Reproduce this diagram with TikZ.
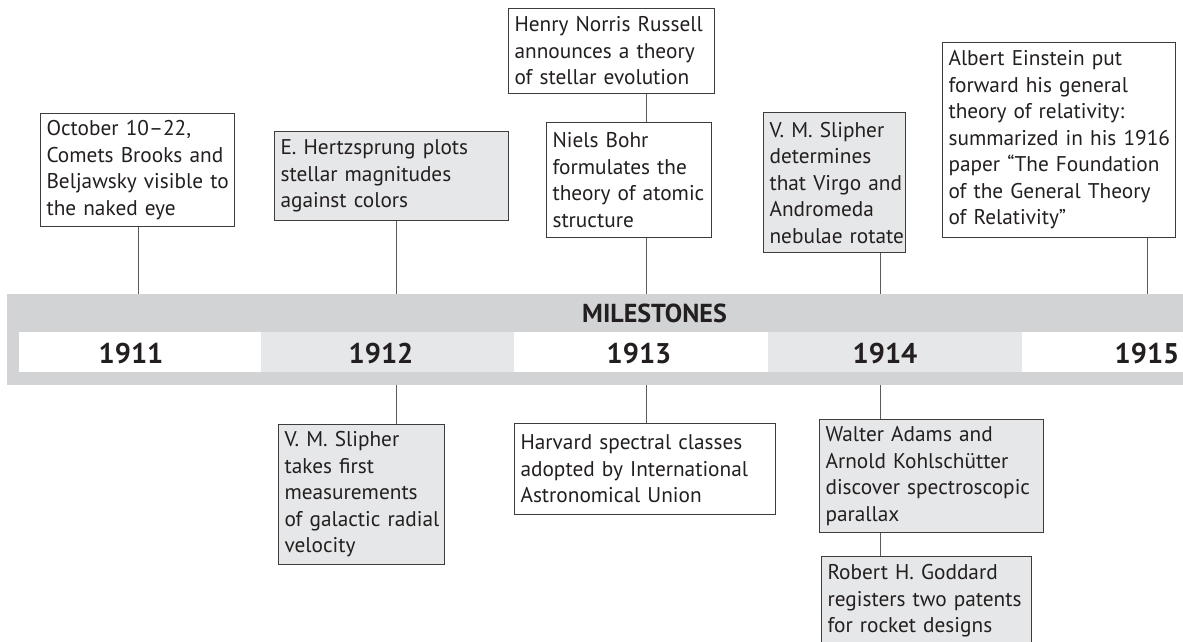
\documentclass[tikz,border=0pt]{standalone}
\usepackage{fontspec}
\setmainfont{PT Sans}
\definecolor{bandgray}{HTML}{D1D3D4}
\definecolor{cellgray}{HTML}{E6E7E8}
\definecolor{boxline}{HTML}{3C3C3C}
\definecolor{connline}{HTML}{5A5A5A}
\definecolor{ink}{HTML}{231F20}
\newcommand\bxfont{\fontsize{21.3pt}{26.5pt}\selectfont}
\newcommand\yrfont{\fontsize{28.5pt}{30pt}\selectfont\bfseries}
\newcommand\msfont{\fontsize{26pt}{28pt}\selectfont\bfseries}
\begin{document}
\begin{tikzpicture}[x=1pt,y=-1pt,
  box/.style={draw=boxline, line width=1.1pt, anchor=north west, inner xsep=6pt, inner ysep=0pt,
    align=left, font=\bxfont, text=ink},
  shaded/.style={fill=cellgray},
  plain/.style={fill=white},
  conn/.style={draw=connline, line width=1pt},
  cell/.style={anchor=north west, inner sep=0pt, minimum width=253.5pt, minimum height=40pt},
  year/.style={font=\yrfont, text=ink, anchor=base, inner sep=0pt}
]
\useasboundingbox (0,0) rectangle (1183,642);

% connector x positions
\coordinate (x1) at (138,0);
\coordinate (x2) at (396,0);
\coordinate (x3) at (646,0);
\coordinate (x4) at (880,0);
\coordinate (x5) at (1147,0);

% band
\node[fill=bandgray, anchor=north west, inner sep=0pt, minimum width=1300pt, minimum height=91pt] (band) at (7,294) {};
\node[cell, fill=white, minimum width=242pt] (c1) at (19,331.7) {};
\node[cell, fill=cellgray] (c2) at (261,331.7) {};
\node[cell, fill=white] (c3) at (514,331.7) {};
\node[cell, fill=cellgray] (c4) at (768,331.7) {};
\node[cell, fill=white] (c5) at (1022,331.7) {};
\node[font=\msfont, text=ink, anchor=base, inner sep=0pt] (ms) at (654.5,322.5) {MILESTONES};
\node[year] (y1) at (131,363.5) {1911};
\node[year] (y2) at (381,363.5) {1912};
\node[year] (y3) at (639,363.5) {1913};
\node[year] (y4) at (885,363.5) {1914};
\node[year] (y5) at (1147,363.5) {1915};

% top boxes
\node[box, plain, minimum width=194pt, minimum height=113pt, text width=182pt] (oct) at (40,113)
  {\mbox{October 10–22,}\\\mbox{Comets Brooks and}\\\mbox{Beljawsky visible to}\\\mbox{the naked eye}};
\node[box, shaded, minimum width=234pt, minimum height=89pt, text width=222pt] (hertz) at (274,131)
  {\mbox{E. Hertzsprung plots}\\\mbox{stellar magnitudes}\\\mbox{against colors}};
\node[box, plain, minimum width=206pt, minimum height=85pt, text width=194pt] (russell) at (508,8)
  {\mbox{Henry Norris Russell}\\\mbox{announces a theory}\\\mbox{of stellar evolution}};
\node[box, plain, minimum width=165pt, minimum height=115pt, text width=153pt] (bohr) at (546,122)
  {\mbox{Niels Bohr}\\\mbox{formulates the}\\\mbox{theory of atomic}\\\mbox{structure}};
\node[box, shaded, minimum width=142pt, minimum height=140pt, text width=130pt] (sliphera) at (763,112)
  {\mbox{V. M. Slipher}\\\mbox{determines}\\\mbox{that Virgo and}\\\mbox{Andromeda}\\\mbox{nebulae rotate}};
\node[box, plain, minimum width=233pt, minimum height=195pt, text width=221pt] (einstein) at (942,42)
  {\mbox{Albert Einstein put}\\\mbox{forward his general}\\\mbox{theory of relativity:}\\\mbox{summarized in his 1916}\\\mbox{paper “The Foundation}\\\mbox{of the General Theory}\\\mbox{of Relativity”}};

% bottom boxes
\node[box, shaded, minimum width=166pt, minimum height=140pt, text width=154pt] (sliphers) at (278,424)
  {\mbox{V. M. Slipher}\\\mbox{takes first}\\\mbox{measurements}\\\mbox{of galactic radial}\\\mbox{velocity}};
\node[box, plain, minimum width=261pt, minimum height=91pt, text width=249pt] (harvard) at (514,423)
  {\mbox{Harvard spectral classes}\\\mbox{adopted by International}\\\mbox{Astronomical Union}};
\node[box, shaded, minimum width=224pt, minimum height=113pt, text width=212pt] (walter) at (819,419)
  {\mbox{Walter Adams and}\\\mbox{Arnold Kohlschütter}\\\mbox{discover spectroscopic}\\\mbox{parallax}};
\node[box, shaded, minimum width=210pt, minimum height=89pt, text width=198pt] (goddard) at (821,556)
  {\mbox{Robert H. Goddard}\\\mbox{registers two patents}\\\mbox{for rocket designs}};

% connectors
\draw[conn] (oct.south -| x1) -- (band.north -| x1);
\draw[conn] (hertz.south -| x2) -- (band.north -| x2);
\draw[conn] (russell.south -| x3) -- (bohr.north -| x3);
\draw[conn] (bohr.south -| x3) -- (band.north -| x3);
\draw[conn] (sliphera.south -| x4) -- (band.north -| x4);
\draw[conn] (einstein.south -| x5) -- (band.north -| x5);
\draw[conn] (band.south -| x2) -- (sliphers.north -| x2);
\draw[conn] (band.south -| x3) -- (harvard.north -| x3);
\draw[conn] (band.south -| x4) -- (walter.north -| x4);
\draw[conn] (walter.south -| x4) -- (goddard.north -| x4);
\end{tikzpicture}
\end{document}
